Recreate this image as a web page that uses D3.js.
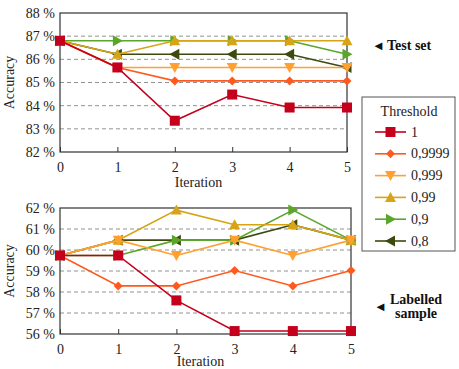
<!DOCTYPE html>
<html>
<head>
<meta charset="utf-8">
<script src="https://cdn.jsdelivr.net/npm/d3@7"></script>
<style>
  body { margin: 0; background: #fff; }
  svg text { font-family: "Liberation Serif", "Times New Roman", Times, "DejaVu Serif", serif !important; }
</style>
</head>
<body>
<svg id="chart" width="459" height="369"></svg>
<script>
// data
var iterations = [0, 1, 2, 3, 4, 5];
var thresholds = ["1", "0,9999", "0,999", "0,99", "0,9", "0,8"];

var testSet1     = [86.8, 85.65, 83.35, 84.48, 83.92, 83.92];
var testSet9999  = [86.8, 85.65, 85.07, 85.07, 85.07, 85.07];
var testSet999   = [86.8, 85.65, 85.65, 85.65, 85.65, 85.65];
var testSet99    = [86.8, 86.22, 86.8, 86.8, 86.8, 86.8];
var testSet9     = [86.8, 86.8, 86.8, 86.8, 86.8, 86.22];
var testSet8     = [86.8, 86.22, 86.22, 86.22, 86.22, 85.65];

var sample1      = [59.74, 59.74, 57.6, 56.14, 56.14, 56.14];
var sample9999   = [59.74, 58.29, 58.29, 59.02, 58.29, 59.02];
var sample999    = [59.74, 60.47, 59.74, 60.47, 59.74, 60.47];
var sample99     = [59.74, 60.47, 61.9, 61.2, 61.2, 60.47];
var sample9      = [59.74, 59.74, 60.47, 60.47, 61.9, 60.47];
var sample8      = [59.74, 60.47, 60.47, 60.47, 61.2, 60.47];

var testTicks = [82, 83, 84, 85, 86, 87, 88];
var sampleTicks = [56, 57, 58, 59, 60, 61, 62];

var colors = ["#c4001c", "#ff5a1e", "#ffa030", "#d6a414", "#5aa62a", "#3c4a0e"];
var shapes = ["square", "diamond", "down", "up", "right", "left"];

var svg = d3.select("#chart");

function marker(sel, shape, color) {
  var s = 5;
  if (shape == "square") {
    sel.append("rect").attr("x", -s).attr("y", -s).attr("width", 2 * s).attr("height", 2 * s).attr("fill", color);
    return;
  }
  var pts;
  if (shape == "diamond") pts = [[0, -4.5], [4.5, 0], [0, 4.5], [-4.5, 0]];
  if (shape == "up") pts = [[0, -5.5], [5.5, 4.5], [-5.5, 4.5]];
  if (shape == "down") pts = [[0, 5.5], [5.5, -4.5], [-5.5, -4.5]];
  if (shape == "right") pts = [[5.5, 0], [-4.5, -5.5], [-4.5, 5.5]];
  if (shape == "left") pts = [[-5.5, 0], [4.5, -5.5], [4.5, 5.5]];
  sel.append("polygon").attr("points", pts.map(function(p) { return p.join(","); }).join(" ")).attr("fill", color);
}

function drawPanel(series, ticks, left, right, top, bottom, labelY) {
  var x = d3.scaleLinear().domain([0, 5]).range([left, right]);
  var y = d3.scaleLinear().domain([ticks[0], ticks[ticks.length - 1]]).range([bottom, top]);
  var g = svg.append("g");

  // dashed grid
  g.selectAll("line.grid").data(ticks.slice(1, -1)).enter().append("line")
    .attr("class", "grid")
    .attr("x1", left).attr("x2", right)
    .attr("y1", function(d) { return y(d); }).attr("y2", function(d) { return y(d); })
    .attr("stroke", "#777").attr("stroke-width", 0.8).attr("stroke-dasharray", "4,3");

  // y axis
  var yAxis = d3.axisLeft(y).tickValues(ticks).tickSize(0).tickPadding(5)
    .tickFormat(function(d) { return d + " %"; });
  var ya = g.append("g").attr("transform", `translate(${left},0)`).call(yAxis).attr("font-family", null);
  ya.select(".domain").remove();
  ya.selectAll("text").attr("font-size", 14).attr("fill", "#222");

  // x axis
  var xAxis = d3.axisBottom(x).tickValues(iterations).tickSize(-5).tickPadding(10).tickFormat(d3.format("d"));
  var xa = g.append("g").attr("transform", `translate(0,${bottom})`).call(xAxis).attr("font-family", null);
  xa.select(".domain").remove();
  xa.selectAll("line").attr("stroke", "#333");
  xa.selectAll("text").attr("font-size", 14).attr("fill", "#222");

  // frame
  g.append("rect").attr("x", left).attr("y", top).attr("width", right - left).attr("height", bottom - top)
    .attr("fill", "none").attr("stroke", "#333").attr("stroke-width", 1.2);

  var line = d3.line().x(function(d, i) { return x(iterations[i]); }).y(function(d) { return y(d); });

  // last threshold first, so "1" ends on top
  for (var k = series.length - 1; k >= 0; k--) {
    var sg = g.append("g");
    sg.append("path").attr("d", line(series[k])).attr("fill", "none")
      .attr("stroke", colors[k]).attr("stroke-width", 1.6);
    series[k].forEach(function(v, i) {
      var m = sg.append("g").attr("transform", `translate(${x(iterations[i])},${y(v)})`);
      marker(m, shapes[k], colors[k]);
    });
  }

  svg.append("text").attr("transform", `translate(14,${(top + bottom) / 2}) rotate(-90)`)
    .attr("text-anchor", "middle").attr("font-size", 14).attr("fill", "#222").text("Accuracy");
  svg.append("text").attr("x", (left + right) / 2 - 5).attr("y", labelY)
    .attr("text-anchor", "middle").attr("font-size", 14).attr("fill", "#222").text("Iteration");
}

drawPanel([testSet1, testSet9999, testSet999, testSet99, testSet9, testSet8], testTicks, 60, 347, 13, 152, 187);
drawPanel([sample1, sample9999, sample999, sample99, sample9, sample8], sampleTicks, 60, 351, 208, 334, 366);

// legend
var lg = svg.append("g");
lg.append("rect").attr("x", 362).attr("y", 97).attr("width", 93).attr("height", 154)
  .attr("fill", "#fff").attr("stroke", "#555").attr("stroke-width", 1);
lg.append("text").attr("x", 409).attr("y", 116).attr("text-anchor", "middle")
  .attr("font-size", 14).attr("fill", "#222").text("Threshold");
thresholds.forEach(function(t, i) {
  var yy = 132 + i * 21.8;
  lg.append("line").attr("x1", 375).attr("x2", 406).attr("y1", yy).attr("y2", yy)
    .attr("stroke", colors[i]).attr("stroke-width", 1.6);
  var m = lg.append("g").attr("transform", `translate(390.5,${yy})`);
  marker(m, shapes[i], colors[i]);
  lg.append("text").attr("x", 411).attr("y", yy + 4.5).attr("font-size", 14).attr("fill", "#222").text(t);
});

// annotations
svg.append("text").attr("x", 372).attr("y", 50).attr("font-size", 13).attr("fill", "#111").text("◄");
svg.append("text").attr("x", 387).attr("y", 50).attr("font-size", 14).attr("font-weight", "bold")
  .attr("fill", "#111").text("Test set");
svg.append("text").attr("x", 374).attr("y", 311).attr("font-size", 13).attr("fill", "#111").text("◄");
svg.append("text").attr("x", 416).attr("y", 304).attr("text-anchor", "middle").attr("font-size", 14)
  .attr("font-weight", "bold").attr("fill", "#111").text("Labelled");
svg.append("text").attr("x", 416).attr("y", 318).attr("text-anchor", "middle").attr("font-size", 14)
  .attr("font-weight", "bold").attr("fill", "#111").text("sample");
</script>
</body>
</html>
